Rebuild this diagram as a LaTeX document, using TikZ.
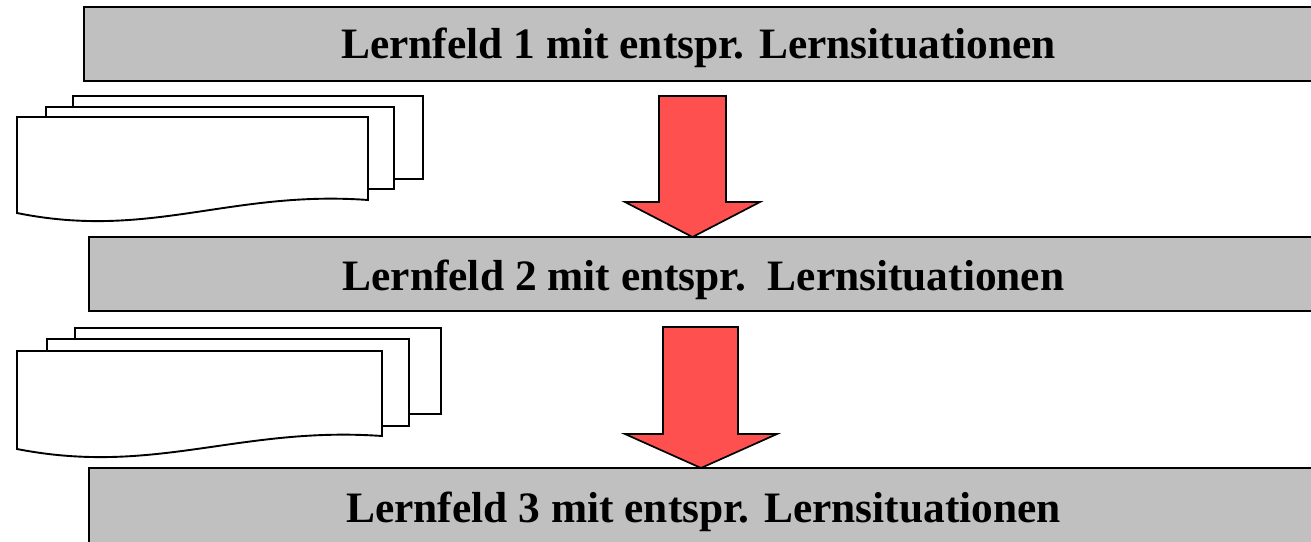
\documentclass[tikz,border=0pt]{standalone}
\usepackage{fontspec}
\setmainfont{Liberation Serif}
\definecolor{bannergray}{RGB}{192,192,192}
\definecolor{arrowred}{RGB}{255,80,80}
\tikzset{
  bannerbox/.style={fill=bannergray, draw=black, line width=1.8pt},
  bannertext/.style={anchor=base, inner sep=0pt, font=\fontsize{43.4}{52}\selectfont\bfseries},
  page/.style={fill=white, draw=black, line width=1.9pt, line join=miter},
  blockarrow/.style={fill=arrowred, draw=black, line width=1.7pt, line join=miter}
}
\begin{document}
\begin{tikzpicture}[x=1pt, y=-1pt]
\useasboundingbox (0,0) rectangle (1311,541);
\clip (0,0) rectangle (1311,541);

% banners (they run past the right edge)
\draw[bannerbox] (84,7) rectangle (1330,81);
\node[bannertext] (lf1) at (698.5,58) {Lernfeld 1 mit entspr. Lernsituationen};

\draw[bannerbox] (89,237) rectangle (1330,311);
\node[bannertext] (lf2) at (703.5,290) {Lernfeld 2 mit entspr.\ \ Lernsituationen};

\draw[bannerbox] (89,468) rectangle (1330,545);
\node[bannertext] (lf3) at (703.5,522) {Lernfeld 3 mit entspr. Lernsituationen};

% first stack of pages
\draw[page] (73,96) rectangle (423,179);
\draw[page] (46,107) rectangle (394,189);
\draw[page] (17,117) -- (368,117) -- (368,200)
  .. controls (230,190) and (150,240) .. (17,213) -- cycle;

% second stack of pages
\draw[page] (75,328) rectangle (441,414);
\draw[page] (47,339) rectangle (409,426);
\draw[page] (17,351) -- (382,351) -- (382,436)
  .. controls (239,426) and (155,476) .. (17,449) -- cycle;

% block arrows between the learning fields
\draw[blockarrow] (659,96) -- (726,96) -- (726,202) -- (760,202)
  -- (692.5,237) -- (625,202) -- (659,202) -- cycle;
\draw[blockarrow] (663,327) -- (738,327) -- (738,434) -- (777,434)
  -- (701,468) -- (625,434) -- (663,434) -- cycle;
\end{tikzpicture}
\end{document}
